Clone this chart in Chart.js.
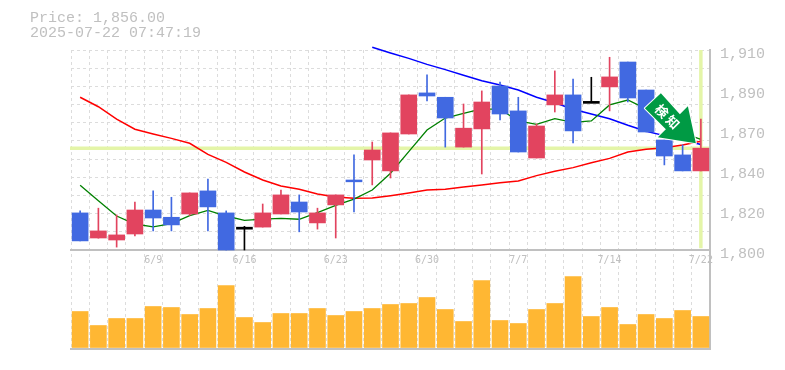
<!DOCTYPE html>
<html>
<head>
<meta charset="utf-8">
<style>
  body { margin: 0; background: #fff; }
  #wrap { position: relative; width: 785px; height: 370px; }
  #head { position: absolute; left: 30px; top: 11px; font: 15px/15px "Liberation Mono", monospace; color: #c0c0c0; white-space: pre; }
</style>
</head>
<body>
<div id="wrap">
  <canvas id="chart" width="785" height="370"></canvas>
  <div id="head">Price: 1,856.00
2025-07-22 07:47:19</div>
</div>
<script src="https://cdn.jsdelivr.net/npm/chart.js@4"></script>
<script>
const dates = ["6/3","6/4","6/5","6/6","6/9","6/10","6/11","6/12","6/13","6/16","6/17","6/18","6/19","6/20","6/23","6/24","6/25","6/26","6/27","6/30","7/1","7/2","7/3","7/4","7/7","7/8","7/9","7/10","7/11","7/14","7/15","7/16","7/17","7/18","7/22"];
const shownDates = ["6/9","6/16","6/23","6/30","7/7","7/14","7/22"];
const opens = [1820.4,1806.6,1805.5,1808.8,1822,1818,1819.8,1832.5,1820.4,1812,1812.6,1819.8,1826.4,1814.9,1824.8,1838.5,1849.5,1843.5,1863.8,1886.4,1884,1856.6,1866.6,1890.2,1876.5,1850.6,1879.8,1885.3,1881.2,1889.7,1903.4,1888,1860.5,1852.3,1843.5];
const closes = [1805,1810.5,1808.3,1822,1817.6,1813.8,1831.4,1823.7,1800,1812,1820.4,1830.3,1820.9,1820.4,1830.3,1837.5,1855,1864.4,1885.3,1884.7,1872.6,1867,1881.4,1874.8,1853.9,1868.2,1885.3,1865.5,1881.2,1895.2,1883.6,1864.9,1851.7,1843.5,1856];
const highs = [1821.5,1823,1819.3,1826.4,1832.5,1829,1831.4,1839,1821.5,1813,1825.3,1833,1830.3,1823,1830.3,1852.3,1859.4,1864.4,1885.3,1896.3,1884,1880.3,1887.5,1892.4,1884,1869.3,1898.5,1894,1895,1906,1903.4,1888,1860.5,1857.8,1872];
const lows = [1805,1806.5,1801.6,1807.7,1810.5,1810.5,1819,1810.5,1800,1800,1812.6,1819.8,1810,1811.5,1806.6,1821,1835.8,1839.6,1863.8,1882,1856.6,1856.6,1841.8,1871.5,1853.9,1850.6,1875.9,1858.9,1881,1876.5,1881.4,1864.9,1846.8,1843.5,1843.5];
const volumes = [3600,2200,2900,2900,4100,4000,3300,3900,6200,3000,2500,3400,3400,3900,3200,3600,3900,4300,4400,5000,3800,2600,6700,2700,2400,3800,4400,7100,3100,4000,2300,3300,2900,3700,3100];
const maShort = [1835.6,1827.1,1818.7,1814.3,1812.7,1814.5,1818.9,1821.8,1818.7,1816.3,1817,1817.4,1816.9,1820.6,1824.6,1828,1833,1842.2,1854.1,1866,1872.6,1875.2,1877.6,1877.4,1871,1869.1,1872.2,1870.2,1871,1879.8,1882.5,1877.6,1869.3,1864.4,1860.9];
const maMid = [1884,1878.8,1872,1866.4,1863.8,1861.4,1858.7,1852.6,1848.2,1842.9,1838.5,1835.2,1833.4,1830.8,1829.2,1828.4,1828.6,1829.9,1831.4,1833,1833.4,1834.7,1835.8,1837,1838,1840.9,1843.3,1845.3,1848,1850.4,1853.9,1855.4,1856.3,1857.8,1859.8];
const maLong = [null,null,null,null,null,null,null,null,null,null,null,null,null,null,null,null,1911.5,1908.4,1905.4,1902.1,1899.2,1896.1,1893.1,1890.8,1888,1884,1881,1877.4,1874.8,1872.2,1868.6,1865.3,1862.9,1860.5,1858];
const priceTicks = [1800,1822,1844,1866,1888,1910];
const gridTicks = [1800,1810,1820,1830,1840,1850,1860,1870,1880,1890,1900,1910];
const lastPrice = 1856;

const RED = "#e2445f";
const BLUE = "#4169e1";
const GRID = "#dcdcdc";
const AXIS = "#c0c0c0";

const candleColor = (i) => {
  if (opens[i] === closes[i]) return "#000";
  return closes[i] > opens[i] ? RED : BLUE;
};
const colors = dates.map((d, i) => candleColor(i));
const bodies = dates.map((d, i) =>
  opens[i] === closes[i] ? [closes[i] - 0.55, closes[i] + 0.55] : [opens[i], closes[i]]
);
const wicks = dates.map((d, i) => [lows[i], highs[i]]);

// current price cross behind the candles
const priceCross = {
  id: "priceCross",
  beforeDatasetsDraw(chart) {
    const { ctx, chartArea, scales } = chart;
    const py = scales.y.getPixelForValue(lastPrice);
    const px = scales.x.getPixelForValue(dates.length - 1);
    ctx.save();
    ctx.strokeStyle = "#e4f5a8";
    ctx.lineWidth = 3.5;
    ctx.beginPath();
    ctx.moveTo(chartArea.left - 1, py);
    ctx.lineTo(chartArea.right - 1, py);
    ctx.moveTo(px, chartArea.top);
    ctx.lineTo(px, scales.y.getPixelForValue(1801));
    ctx.stroke();
    ctx.restore();
  },
};

// green badge pointing at the last candle
const signalArrow = {
  id: "signalArrow",
  afterDatasetsDraw(chart) {
    const { ctx, scales } = chart;
    const ax = scales.x.getPixelForValue(dates.length - 1);
    const ay = scales.y.getPixelForValue(lastPrice);
    const shape = [[-40,-55],[-56,-40],[-35,-19],[-43,-11],[-5,-5],[-13,-42],[-21,-34]];
    ctx.save();
    ctx.translate(ax, ay);
    ctx.beginPath();
    shape.forEach((p, i) => (i ? ctx.lineTo(p[0], p[1]) : ctx.moveTo(p[0], p[1])));
    ctx.closePath();
    ctx.strokeStyle = "#fff";
    ctx.lineWidth = 2;
    ctx.lineJoin = "round";
    ctx.stroke();
    ctx.fillStyle = "#009a44";
    ctx.fill();
    ctx.fillStyle = "#fff";
    ctx.font = 'bold 13px "Noto Sans CJK JP"';
    ctx.textAlign = "center";
    ctx.textBaseline = "middle";
    [["検", -39, -37], ["知", -28, -26]].forEach(([ch, x, y]) => {
      ctx.save();
      ctx.translate(x, y);
      ctx.rotate(Math.PI / 4);
      ctx.fillText(ch, 0, 0);
      ctx.restore();
    });
    ctx.restore();
  },
};

new Chart(document.getElementById("chart"), {
  type: "bar",
  data: {
    labels: dates,
    datasets: [
      { data: bodies, backgroundColor: colors, barThickness: 16, grouped: false, order: 1 },
      { data: wicks, backgroundColor: colors, barThickness: 1, grouped: false, order: 2 },
      { data: volumes, yAxisID: "vol", backgroundColor: "#ffb733", barThickness: 16, grouped: false, order: 3 },
      { type: "line", data: maShort, borderColor: "#008000", borderWidth: 1.3, pointRadius: 0, tension: 0, order: 4, clip: 10 },
      { type: "line", data: maMid, borderColor: "#ff0000", borderWidth: 1.5, pointRadius: 0, tension: 0, order: 5, clip: 10 },
      { type: "line", data: maLong, borderColor: "#0000ff", borderWidth: 1.5, pointRadius: 0, tension: 0, order: 6, clip: 10 },
    ],
  },
  plugins: [priceCross, signalArrow],
  options: {
    responsive: false,
    animation: false,
    layout: { padding: { left: 71, top: 50, right: 0, bottom: 21 } },
    plugins: { legend: { display: false }, tooltip: { enabled: false } },
    scales: {
      x: {
        position: { y: 1800 },
        grid: { color: GRID, offset: true, drawTicks: false },
        border: { color: AXIS, width: 2, dash: [3, 3] },
        ticks: {
          autoSkip: false,
          maxRotation: 0,
          padding: 4,
          color: "#c0c0c0",
          font: { family: "DejaVu Sans Mono", size: 10 },
          callback(value) {
            const label = this.getLabelForValue(value);
            return shownDates.includes(label) ? label : "";
          },
        },
      },
      xBottom: {
        type: "category",
        position: "bottom",
        grid: { display: false },
        border: { color: AXIS, width: 2 },
        ticks: { display: false },
        afterFit(scale) { scale.height = 0; },
      },
      y: {
        position: "right",
        min: 1745.55,
        max: 1910,
        afterBuildTicks(scale) { scale.ticks = gridTicks.map((value) => ({ value })); },
        grid: { color: GRID, drawTicks: false },
        border: { color: AXIS, width: 2, dash: [3, 3] },
        ticks: { display: false },
        afterFit(scale) { scale.width = 0; },
      },
      priceLabels: {
        type: "linear",
        position: "right",
        min: 1745.55,
        max: 1910,
        afterBuildTicks(scale) { scale.ticks = priceTicks.map((value) => ({ value })); },
        grid: { display: false, drawTicks: false },
        border: { display: false },
        ticks: {
          padding: 10,
          labelOffset: 4,
          color: "#c0c0c0",
          font: { family: "Liberation Mono", size: 15 },
          callback(value) { return (Math.round(value / 10) * 10).toLocaleString("en-US"); },
        },
        afterFit(scale) { scale.width = 75; },
      },
      vol: {
        display: false,
        min: -150,
        max: 29750,
      },
    },
  },
});
</script>
</body>
</html>
